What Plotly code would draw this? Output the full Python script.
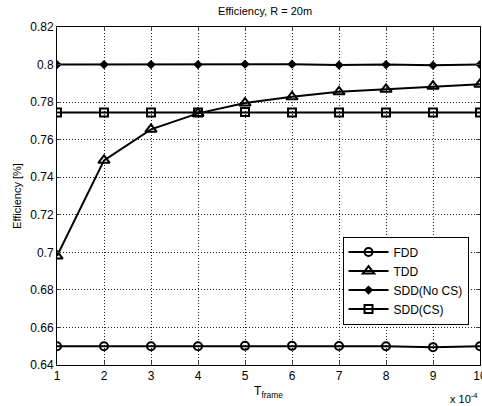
import plotly.graph_objects as go

x = [1, 2, 3, 4, 5, 6, 7, 8, 9, 10]
fdd = [0.650, 0.650, 0.650, 0.650, 0.6502, 0.6502, 0.6501, 0.650, 0.6495, 0.650]
tdd = [0.698, 0.749, 0.7655, 0.774, 0.7795, 0.7828, 0.7855, 0.7868, 0.7885, 0.7895]
sdd_nocs = [0.800, 0.800, 0.800, 0.800, 0.8002, 0.8002, 0.7997, 0.800, 0.7996, 0.800]
sdd_cs = [0.7745, 0.7745, 0.7745, 0.7745, 0.7747, 0.7745, 0.7745, 0.7745, 0.7745, 0.7745]

series = [
    ("FDD", fdd, "circle-open", 8),
    ("TDD", tdd, "triangle-up-open", 10),
    ("SDD(No CS)", sdd_nocs, "diamond", 5),
    ("SDD(CS)", sdd_cs, "square-open", 8),
]

yticks = [0.64, 0.66, 0.68, 0.70, 0.72, 0.74, 0.76, 0.78, 0.80, 0.82]
yticktext = ["0.64", "0.66", "0.68", "0.7", "0.72", "0.74", "0.76", "0.78", "0.8", "0.82"]

fig = go.Figure()
for name, ys, sym, sz in series:
    fig.add_trace(go.Scatter(
        x=x, y=ys, name=name, mode="lines+markers",
        line=dict(color="black", width=2),
        marker=dict(symbol=sym, size=sz, color="black",
                    line=dict(color="black", width=2)),
    ))

font = "Liberation Sans, Arial, sans-serif"
fig.update_layout(
    width=482, height=406,
    margin=dict(l=57, r=2, t=27, b=41),
    paper_bgcolor="white", plot_bgcolor="white",
    font=dict(family=font, size=11, color="black"),
    title=dict(text="Efficiency, R = 20m", x=0.55, xanchor="center",
               y=0.972, yanchor="middle", font=dict(size=11)),
    showlegend=True,
    legend=dict(x=0.675, y=0.38, xanchor="left", yanchor="top",
                bordercolor="black", borderwidth=1, bgcolor="white",
                font=dict(size=12), tracegroupgap=0, itemwidth=40),
    xaxis=dict(range=[1, 10], tickvals=x, ticks="inside", ticklen=4,
               showline=True, linecolor="black", linewidth=1, mirror="ticks",
               showgrid=True, gridcolor="#222", griddash="1px,2px", gridwidth=1,
               zeroline=False, tickfont=dict(size=12), ticklabeloverflow="allow",
               automargin=False,
               title=dict(text="T<sub>frame</sub>", standoff=4, font=dict(size=12))),
    yaxis=dict(range=[0.64, 0.82], tickvals=yticks, ticktext=yticktext,
               ticks="inside", ticklen=4, automargin=False,
               showline=True, linecolor="black", linewidth=1, mirror="ticks",
               showgrid=True, gridcolor="#222", griddash="1px,2px", gridwidth=1,
               zeroline=False, tickfont=dict(size=12),
               title=dict(text="Efficiency [%]", standoff=6, font=dict(size=11))),
)
fig.add_annotation(text="x 10<sup>-4</sup>", xref="paper", yref="paper",
                   x=1.0, y=-0.07, xanchor="right", yanchor="top",
                   showarrow=False, font=dict(size=11))

fig.write_html("out.html")
